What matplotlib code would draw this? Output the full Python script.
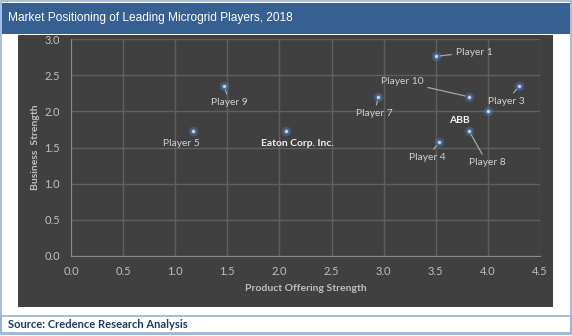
from matplotlib import pyplot as plt
from matplotlib.patches import Rectangle
import numpy as np

# data
players = ["Player 1", "Player 10", "Player 3", "Player 7", "ABB", "Player 8",
           "Player 4", "Player 9", "Player 5", "Eaton Corp. Inc."]
product_strength = [3.5, 3.82, 4.3, 2.95, 4.0, 3.82, 3.53, 1.47, 1.17, 2.06]
business_strength = [2.76, 2.2, 2.35, 2.2, 2.0, 1.73, 1.57, 2.35, 1.73, 1.73]
# label anchor positions (data units) and whether a leader line is drawn
label_x = [3.69, 3.18, 4.18, 2.91, 3.73, 3.99, 3.42, 1.52, 1.06, 2.17]
label_y = [2.82, 2.41, 2.14, 1.97, 1.88, 1.29, 1.36, 2.12, 1.55, 1.56]
label_ha = ["left", "center", "center", "center", "center", "center",
            "center", "center", "center", "center"]
leader = [True, True, True, True, False, True, True, True, False, False]
bold = [False, False, False, False, True, False, False, False, False, True]

W, H = 572, 336
fig = plt.figure(figsize=(W/100, H/100), dpi=100)
fig.patch.set_facecolor("white")

def px(x0, y0, w, h, **kw):
    # rectangle in figure pixels (top-left origin), drawn behind the axes
    fig.patches.append(Rectangle((x0/W, 1-(y0+h)/H), w/W, h/H,
                                 transform=fig.transFigure, figure=fig,
                                 zorder=-5, **kw))

px(1, 1, 570, 333, facecolor="white", edgecolor="#95B3D7", lw=1.2)
px(2, 3, 568, 31, facecolor="#376092", edgecolor="none")
px(18, 35, 535, 272, facecolor="#404040", edgecolor="none")
px(1, 316, 570, 17, facecolor="none", edgecolor="#95B3D7", lw=1.2)

fig.text(8/W, 1-18/H, "Market Positioning of Leading Microgrid Players, 2018",
         color="white", fontsize=8.6, family="Liberation Sans", va="center")
fig.text(8/W, 1-325/H, "Source: Credence Research Analysis", color="#1F3864",
         fontsize=8, fontweight="bold", family="Lato", va="center")

ax = fig.add_axes([71/W, 1-256/H, 469/W, 217/H])
ax.set_facecolor("#404040")
ax.set_xlim(0, 4.5)
ax.set_ylim(0, 3.0)
ax.set_xticks(np.arange(0, 4.51, 0.5))
ax.set_yticks(np.arange(0, 3.01, 0.5))
ax.xaxis.set_major_formatter(plt.FormatStrFormatter("%.1f"))
ax.yaxis.set_major_formatter(plt.FormatStrFormatter("%.1f"))
ax.grid(True, color="#5f5f5f", lw=1)
ax.set_axisbelow(True)
for s in ["top", "right"]:
    ax.spines[s].set_visible(False)
for s in ["left", "bottom"]:
    ax.spines[s].set_color("#8a8a8a")
ax.tick_params(length=0, colors="#BFBFBF", labelsize=8)
ax.tick_params(axis="y", pad=8)
ax.tick_params(axis="x", pad=7)
for t in ax.get_xticklabels() + ax.get_yticklabels():
    t.set_family("Lato")

ax.set_xlabel("Product Offering Strength", color="#BFBFBF", fontsize=7.5,
              fontweight="bold", family="Lato", labelpad=5)
ax.set_ylabel("Business  Strength", color="#BFBFBF", fontsize=7.5,
              fontweight="bold", family="Lato", labelpad=3)

# glowing markers
ax.scatter(product_strength, business_strength, s=50, color="#4F81BD",
           alpha=0.35, lw=0, zorder=3)
ax.scatter(product_strength, business_strength, s=16, color="#5B8BD0",
           alpha=0.6, lw=0, zorder=3)
ax.scatter(product_strength, business_strength, s=5, color="#C6D9F1",
           lw=0, zorder=4)

for i, name in enumerate(players):
    arrow = dict(arrowstyle="-", color="#A6A6A6", lw=0.9, shrinkA=1, shrinkB=3) if leader[i] else None
    ax.annotate(name, (product_strength[i], business_strength[i]),
                xytext=(label_x[i], label_y[i]), textcoords="data",
                ha=label_ha[i], va="center", fontsize=7.4,
                color="#F2F2F2" if bold[i] else "#D0D0D0",
                fontweight="bold" if bold[i] else "normal",
                family="Lato", arrowprops=arrow, zorder=5)

fig.savefig("out.png", dpi=100, facecolor=fig.get_facecolor())
